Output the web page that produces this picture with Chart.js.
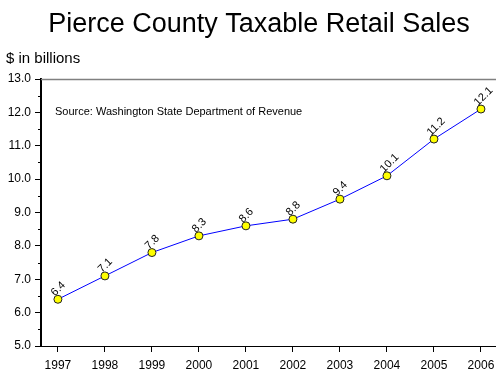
<!DOCTYPE html>
<html>
<head>
<meta charset="utf-8">
<title>Pierce County Taxable Retail Sales</title>
<script src="https://cdn.jsdelivr.net/npm/chart.js@4.4.0/dist/chart.umd.min.js"></script>
<style>
  html, body { margin: 0; padding: 0; background: #fff; }
  #wrap { width: 496px; height: 370px; }
</style>
</head>
<body>
<div id="wrap"><canvas id="sales"></canvas></div>
<script>
const years = [1997, 1998, 1999, 2000, 2001, 2002, 2003, 2004, 2005, 2006];
const sales = [6.4, 7.1, 7.8, 8.3, 8.6, 8.8, 9.4, 10.1, 11.2, 12.1];
const yTicks = [5, 6, 7, 8, 9, 10, 11, 12, 13];
const yMinor = [5.5, 6.5, 7.5, 8.5, 9.5, 10.5, 11.5, 12.5];

const FONT = "'Liberation Sans', Arial, sans-serif";

// ── Extras: headings, minor ticks, top rule, source note, value labels ────

const extras = {
  id: "extras",
  beforeDatasetsDraw(chart) {
    const { ctx, chartArea, scales } = chart;
    ctx.save();
    ctx.fillStyle = "#000";
    // title (sits a little right of centre)
    ctx.font = `27px ${FONT}`;
    ctx.textAlign = "center";
    ctx.textBaseline = "alphabetic";
    ctx.fillText("Pierce County Taxable Retail Sales", 259, 32);
    // unit caption above the axis
    ctx.font = `15px ${FONT}`;
    ctx.textAlign = "left";
    ctx.fillText("$ in billions", 6, 63);
    // top frame line
    ctx.strokeStyle = "#808080";
    ctx.lineWidth = 1.5;
    ctx.beginPath();
    ctx.moveTo(chartArea.left, chartArea.top + 0.5);
    ctx.lineTo(chartArea.right, chartArea.top + 0.5);
    ctx.stroke();
    // minor ticks on y
    ctx.strokeStyle = "#000";
    ctx.lineWidth = 1;
    yMinor.forEach(v => {
      const y = Math.round(scales.y.getPixelForValue(v)) + 0.5;
      ctx.beginPath();
      ctx.moveTo(chartArea.left - 3, y);
      ctx.lineTo(chartArea.left, y);
      ctx.stroke();
    });
    // source note
    ctx.font = `11px ${FONT}`;
    ctx.textBaseline = "middle";
    ctx.fillText("Source: Washington State Department of Revenue", 55, 112);
    ctx.restore();
  },
  afterDatasetsDraw(chart) {
    const { ctx } = chart;
    const meta = chart.getDatasetMeta(0);
    ctx.save();
    ctx.fillStyle = "#000";
    ctx.font = `11px ${FONT}`;
    ctx.textAlign = "left";
    ctx.textBaseline = "middle";
    meta.data.forEach((pt, i) => {
      ctx.save();
      ctx.translate(pt.x - 5, pt.y - 5);
      ctx.rotate(-Math.PI / 4);
      ctx.fillText(sales[i].toFixed(1), 0, 0);
      ctx.restore();
    });
    ctx.restore();
  },
};

new Chart(document.getElementById("sales"), {
  type: "line",
  data: {
    datasets: [{
      data: years.map((yr, i) => ({ x: yr, y: sales[i] })),
      borderColor: "#0000ff",
      borderWidth: 1,
      pointRadius: 4,
      pointBackgroundColor: "#ffff00",
      pointBorderColor: "#222",
      pointBorderWidth: 1,
      tension: 0,
      fill: false,
    }],
  },
  options: {
    responsive: true,
    maintainAspectRatio: false,
    animation: false,
    layout: {
      autoPadding: false,
      padding: { left: 5, right: 0, top: 79, bottom: 0 },
    },
    plugins: {
      legend: { display: false },
      tooltip: { enabled: false },
    },
    scales: {
      x: {
        type: "linear",
        min: 1996.64,
        max: 2006.32,
        afterBuildTicks: scale => { scale.ticks = years.map(v => ({ value: v })); },
        afterFit: scale => {
          scale.height = 24;
          scale.paddingLeft = 0;
          scale.paddingRight = 0;
        },
        ticks: {
          autoSkip: false,
          maxRotation: 0,
          color: "#000",
          padding: 6,
          font: { family: FONT, size: 12 },
          callback: v => String(v),
        },
        grid: { drawOnChartArea: false, tickLength: 6, color: "#000" },
        border: { color: "#000", width: 1 },
      },
      y: {
        min: 5,
        max: 13,
        afterBuildTicks: scale => { scale.ticks = yTicks.map(v => ({ value: v })); },
        afterFit: scale => {
          scale.width = 36;
          scale.paddingTop = 0;
          scale.paddingBottom = 0;
        },
        ticks: {
          color: "#000",
          padding: 4,
          font: { family: FONT, size: 12 },
          callback: v => v.toFixed(1),
        },
        grid: { drawOnChartArea: false, tickLength: 6, color: "#000" },
        border: { color: "#000", width: 2 },
      },
    },
  },
  plugins: [extras],
});
</script>
</body>
</html>
